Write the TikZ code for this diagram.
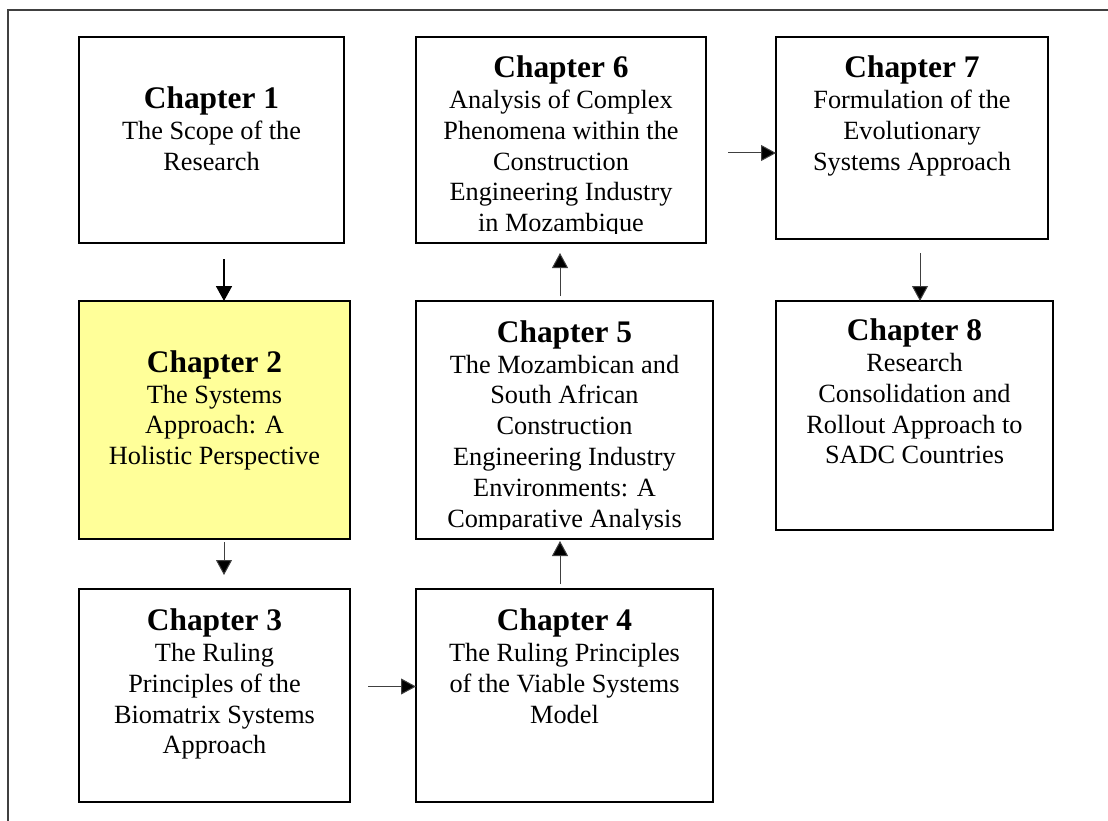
\documentclass[tikz,border=0pt]{standalone}
\usepackage{fontspec}
\setmainfont{Liberation Serif}
\usetikzlibrary{arrows.meta,calc}

\tikzset{
  chapbox/.style={draw=black, line width=2pt, fill=white, inner sep=0pt, outer sep=0pt},
  chaptxt/.style={anchor=north, align=center, inner sep=0pt,
    font=\fontsize{26.3}{30.8}\selectfont},
  flow/.style={line width=1pt, draw=black!75,
    -{Triangle[length=15pt,width=16pt,fill=black]}},
  flowbold/.style={flow, line width=1.7pt, draw=black},
}
\newcommand{\chaptitle}[1]{{\fontsize{31.4}{30.8}\selectfont\bfseries Chapter #1}}

\begin{document}
\begin{tikzpicture}[x=1pt,y=-1pt]
  \clip (0,0) rectangle (1108,821);
  \fill[white] (0,0) rectangle (1108,821);

  % surrounding frame (runs off the page to the right and bottom)
  \draw[line width=1.8pt, draw=black!75] (8,10) rectangle (1140,850);

  % chapter boxes
  \node[chapbox, minimum width=265pt, minimum height=206pt] (c1) at (211.5,140) {};
  \node[chapbox, fill={rgb,255:red,255;green,255;blue,153},
        minimum width=271pt, minimum height=238pt] (c2) at (214.5,420) {};
  \node[chapbox, minimum width=271pt, minimum height=213pt] (c3) at (214.5,695.5) {};
  \node[chapbox, minimum width=297pt, minimum height=213pt] (c4) at (564.5,695.5) {};
  \node[chapbox, minimum width=297pt, minimum height=238pt] (c5) at (564.5,420) {};
  \node[chapbox, minimum width=290pt, minimum height=206pt] (c6) at (561,140) {};
  \node[chapbox, minimum width=272pt, minimum height=202pt] (c7) at (912,138) {};
  \node[chapbox, minimum width=277pt, minimum height=229pt] (c8) at (914.5,415.5) {};

  % chapter texts, each kept inside its box
  \begin{scope}
    \clip (c1.north west) rectangle ($(c1.south east)+(0,-10)$);
    \node[chaptxt] (t1) at ($(c1.north)+(0,50)$)
      {\chaptitle{1}\\The Scope of the\\Research};
  \end{scope}
  \begin{scope}
    \clip (c2.north west) rectangle ($(c2.south east)+(0,-10)$);
    \node[chaptxt] (t2) at ($(c2.north)+(0,49.4)$)
      {\chaptitle{2}\\The Systems\\Approach: A\\Holistic Perspective};
  \end{scope}
  \begin{scope}
    \clip (c3.north west) rectangle ($(c3.south east)+(0,-10)$);
    \node[chaptxt] (t3) at ($(c3.north)+(0,19.7)$)
      {\chaptitle{3}\\The Ruling\\Principles of the\\Biomatrix Systems\\Approach};
  \end{scope}
  \begin{scope}
    \clip (c4.north west) rectangle ($(c4.south east)+(0,-10)$);
    \node[chaptxt] (t4) at ($(c4.north)+(0,19.7)$)
      {\chaptitle{4}\\The Ruling Principles\\of the Viable Systems\\Model};
  \end{scope}
  \begin{scope}
    \clip (c5.north west) rectangle ($(c5.south east)+(0,-10)$);
    \node[chaptxt] (t5) at ($(c5.north)+(0,19.4)$)
      {\chaptitle{5}\\The Mozambican and\\South African\\Construction\\Engineering Industry\\Environments: A\\Comparative Analysis};
  \end{scope}
  \begin{scope}
    \clip (c6.north west) rectangle ($(c6.south east)+(0,-10)$);
    \node[chaptxt] (t6) at ($(c6.north)+(0,18.7)$)
      {\chaptitle{6}\\Analysis of Complex\\Phenomena within the\\Construction\\Engineering Industry\\in Mozambique};
  \end{scope}
  \begin{scope}
    \clip (c7.north west) rectangle ($(c7.south east)+(0,-10)$);
    \node[chaptxt] (t7) at ($(c7.north)+(0,19)$)
      {\chaptitle{7}\\Formulation of the\\Evolutionary\\Systems Approach};
  \end{scope}
  \begin{scope}
    \clip (c8.north west) rectangle ($(c8.south east)+(0,-10)$);
    \node[chaptxt] (t8) at ($(c8.north)+(0,17.7)$)
      {\chaptitle{8}\\Research\\Consolidation and\\Rollout Approach to\\SADC Countries};
  \end{scope}

  % connector end points
  \coordinate (a12) at ($(c1.south west)+(145,16)$);
  \coordinate (a23s) at ($(c2.south west)+(145,3)$);
  \coordinate (a23e) at ($(c3.north west)+(145,-14)$);
  \coordinate (a34) at ($(c3.east)+(18,-9)$);
  \coordinate (a45s) at ($(c4.north)+(-4.5,-5)$);
  \coordinate (a45e) at ($(c5.south)+(-4.5,2)$);
  \coordinate (a56s) at ($(c5.north)+(-4.5,-5)$);
  \coordinate (a56e) at ($(c6.south)+(-1,10)$);
  \coordinate (a67) at ($(c6.east)+(22,13)$);
  \coordinate (a78) at ($(c7.south)+(8,14)$);

  % reading order
  \draw[flowbold] (a12) -- (a12 |- c2.north);
  \draw[flow] (a23s) -- (a23e);
  \draw[flow] (a34) -- (a34 -| c4.west);
  \draw[flow] (a45s) -- (a45e);
  \draw[flow] (a56s) -- (a56e);
  \draw[flow] (a67) -- (a67 -| c7.west);
  \draw[flow] (a78) -- (a78 |- c8.north);
\end{tikzpicture}
\end{document}
